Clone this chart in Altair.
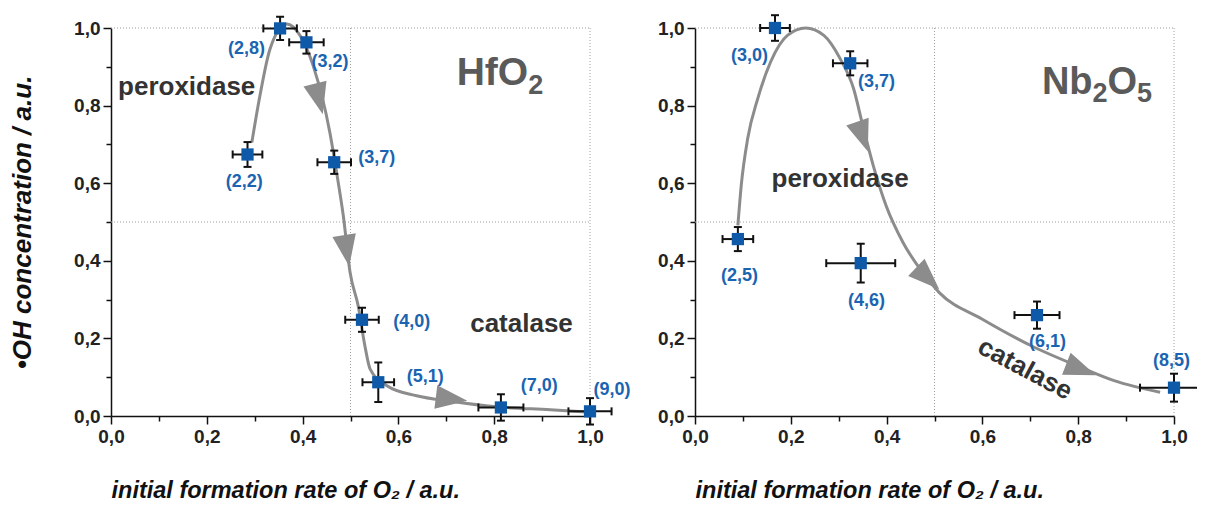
import altair as alt
import pandas as pd

# ---------------- HfO2 panel data ----------------
hf_x = [0.285, 0.353, 0.408, 0.466, 0.524, 0.558, 0.814, 1.0]
hf_y = [0.674, 0.999, 0.963, 0.654, 0.248, 0.087, 0.022, 0.012]
hf_xerr = [0.031, 0.035, 0.036, 0.035, 0.035, 0.033, 0.047, 0.045]
hf_yerr = [0.032, 0.030, 0.029, 0.030, 0.031, 0.051, 0.034, 0.034]
hf_labels = ["(2,2)", "(2,8)", "(3,2)", "(3,7)", "(4,0)", "(5,1)", "(7,0)", "(9,0)"]
hf_label_x = [0.278, 0.283, 0.457, 0.555, 0.628, 0.656, 0.894, 1.046]
hf_label_y = [0.603, 0.946, 0.912, 0.665, 0.242, 0.100, 0.077, 0.067]

hf_curve_x = [0.294, 0.311, 0.332, 0.367, 0.395, 0.422, 0.457, 0.471, 0.485, 0.499,
              0.516, 0.530, 0.541, 0.576, 0.638, 0.708, 0.812, 0.917, 0.993]
hf_curve_y = [0.705, 0.826, 0.946, 1.010, 0.980, 0.903, 0.730, 0.628, 0.516, 0.371,
              0.284, 0.181, 0.121, 0.078, 0.052, 0.038, 0.023, 0.016, 0.010]

hf_arrow_x = [0.434, 0.492, 0.711]
hf_arrow_y = [0.817, 0.426, 0.044]
hf_arrow_angle = [165.7, 170.7, 96.9]

hf_region_text = ["peroxidase", "catalase"]
hf_region_x = [0.158, 0.857]
hf_region_y = [0.847, 0.237]
hf_region_angle = [0, 0]

hf_formula_parts = ["HfO", "2"]
hf_formula_x = [0.871, 0.871]
hf_formula_y = [0.852, 0.830]
hf_formula_size = [39, 27]
hf_formula_align = ["right", "left"]

# ---------------- Nb2O5 panel data ----------------
nb_x = [0.0895, 0.167, 0.324, 0.346, 0.714, 1.0]
nb_y = [0.456, 1.0, 0.909, 0.394, 0.26, 0.073]
nb_xerr = [0.032, 0.031, 0.036, 0.072, 0.047, 0.071]
nb_yerr = [0.031, 0.033, 0.031, 0.050, 0.035, 0.036]
nb_labels = ["(2,5)", "(3,0)", "(3,7)", "(4,6)", "(6,1)", "(8,5)"]
nb_label_x = [0.093, 0.114, 0.379, 0.358, 0.736, 0.995]
nb_label_y = [0.362, 0.929, 0.860, 0.297, 0.190, 0.143]

nb_curve_x = [0.0895, 0.0965, 0.110, 0.131, 0.158, 0.193, 0.231, 0.269, 0.303, 0.331,
              0.350, 0.372, 0.399, 0.434, 0.475, 0.510, 0.599, 0.702, 0.806, 0.875, 0.971]
nb_curve_y = [0.491, 0.594, 0.715, 0.818, 0.913, 0.981, 1.000, 0.981, 0.921, 0.844,
              0.750, 0.646, 0.542, 0.448, 0.370, 0.318, 0.250, 0.181, 0.125, 0.091, 0.061]

nb_arrow_x = [0.350, 0.486, 0.806]
nb_arrow_y = [0.720, 0.355, 0.120]
nb_arrow_angle = [160.8, 133.7, 111.2]

nb_region_text = ["peroxidase", "catalase"]
nb_region_x = [0.303, 0.689]
nb_region_y = [0.611, 0.121]
nb_region_angle = [0, 28]

nb_formula_parts = ["Nb", "2", "O", "5"]
nb_formula_x = [0.830, 0.830, 0.861, 0.923]
nb_formula_y = [0.829, 0.808, 0.829, 0.808]
nb_formula_size = [38, 27, 38, 27]
nb_formula_align = ["right", "left", "left", "left"]

# dotted guide lines
vline_x = [0.5, 1.0]
hline_y = [0.5, 1.0]

tick_values = [0.0, 0.1, 0.2, 0.3, 0.4, 0.5, 0.6, 0.7, 0.8, 0.9, 1.0]

FONT = "Liberation Sans"
BLUE = "#0f5aa8"
LABEL_BLUE = "#1a64b2"
GRAY = "#8c8c8c"
DARK = "#333333"
FORMULA_GRAY = "#5a5a5a"

major_test = "round(datum.value*10) % 2 == 0"
label_expr = f"{major_test} ? replace(format(datum.value, '.1f'), '.', ',') : ''"
tick_size = {"condition": {"test": major_test, "value": 8}, "value": 5}

xscale = alt.Scale(domain=[0, 1], nice=False, zero=False)
yscale = alt.Scale(domain=[0, 1], nice=False, zero=False)

AXIS_STYLE = dict(domainColor="#111111", domainWidth=1.5, tickColor="#111111", tickWidth=1.5,
                  labelFont=FONT, labelFontWeight="bold", labelFontSize=19, labelColor="#222222",
                  titleFont=FONT, titleColor="#111111", grid=False, labelFlush=False)


def make_axis_x():
    return alt.Axis(values=tick_values, labelExpr=label_expr, tickSize=tick_size,
                    title="initial formation rate of O\u2082 / a.u.",
                    titleFontStyle="italic", titleFontWeight="bold", titleFontSize=23.5,
                    titleAnchor="start", titlePadding=32, labelPadding=3, **AXIS_STYLE)


def make_axis_y(with_title):
    kw = dict(values=tick_values, labelExpr=label_expr, tickSize=tick_size,
              labelPadding=3, labelOverlap=False, **AXIS_STYLE)
    if with_title:
        kw.update(title="\u2022OH concentration / a.u.", titleFontStyle="italic",
                  titleFontWeight="bold", titleFontSize=26, titlePadding=38)
    else:
        kw.update(title="")
    return alt.Axis(**kw)


def panel(px, py, pxe, pye, labels, lx, ly, cx, cy, ax, ay, aang,
          rtext, rx, ry, rang, fparts, fx, fy, fsize, falign, with_title):
    pts = pd.DataFrame({"x": px, "y": py, "xe": pxe, "ye": pye})
    pts["xlo"] = pts.x - pts.xe
    pts["xhi"] = pts.x + pts.xe
    pts["ylo"] = pts.y - pts.ye
    pts["yhi"] = pts.y + pts.ye
    lab = pd.DataFrame({"t": labels, "x": lx, "y": ly})
    curve = pd.DataFrame({"x": cx, "y": cy, "o": list(range(len(cx)))})
    arrows = pd.DataFrame({"x": ax, "y": ay, "a": aang})
    regions = pd.DataFrame({"t": rtext, "x": rx, "y": ry, "a": rang})
    vl = pd.DataFrame({"x": vline_x, "y0": [0.0] * 2, "y1": [1.0] * 2})
    hl = pd.DataFrame({"y": hline_y, "x0": [0.0] * 2, "x1": [1.0] * 2})

    ax_x = make_axis_x()
    ax_y = make_axis_y(with_title)
    X = lambda f: alt.X(f, type="quantitative", scale=xscale, axis=ax_x)
    Y = lambda f: alt.Y(f, type="quantitative", scale=yscale, axis=ax_y)

    vrules = alt.Chart(vl).mark_rule(color="#a0a0a0", strokeDash=[1, 2], strokeWidth=1).encode(
        x=X("x"), y=Y("y0"), y2="y1:Q")
    hrules = alt.Chart(hl).mark_rule(color="#a0a0a0", strokeDash=[1, 2], strokeWidth=1).encode(
        y=Y("y"), x=X("x0"), x2="x1:Q")
    line = alt.Chart(curve).mark_line(color=GRAY, strokeWidth=3, interpolate="monotone").encode(
        x=X("x"), y=Y("y"), order="o:Q")
    arrow = alt.Chart(arrows).mark_point(
        shape="M0,-1L0.75,1L-0.75,1Z", filled=True, color=GRAY, opacity=1, size=1000
    ).encode(x=X("x"), y=Y("y"), angle=alt.Angle("a:Q", scale=None))
    xerr = alt.Chart(pts).mark_rule(color="#111111", strokeWidth=2).encode(
        x=X("xlo"), x2="xhi:Q", y=Y("y"))
    yerr = alt.Chart(pts).mark_rule(color="#111111", strokeWidth=2).encode(
        y=Y("ylo"), y2="yhi:Q", x=X("x"))
    cap_style = dict(filled=False, color="#111111", strokeWidth=2, size=64, opacity=1)
    cap_xlo = alt.Chart(pts).mark_point(shape="M0,-1L0,1", **cap_style).encode(x=X("xlo"), y=Y("y"))
    cap_xhi = alt.Chart(pts).mark_point(shape="M0,-1L0,1", **cap_style).encode(x=X("xhi"), y=Y("y"))
    cap_ylo = alt.Chart(pts).mark_point(shape="M-1,0L1,0", **cap_style).encode(x=X("x"), y=Y("ylo"))
    cap_yhi = alt.Chart(pts).mark_point(shape="M-1,0L1,0", **cap_style).encode(x=X("x"), y=Y("yhi"))
    squares = alt.Chart(pts).mark_square(color=BLUE, size=150, opacity=1).encode(x=X("x"), y=Y("y"))
    labels_l = alt.Chart(lab).mark_text(
        font=FONT, fontWeight="bold", fontSize=18, color=LABEL_BLUE, align="center", baseline="middle"
    ).encode(x=X("x"), y=Y("y"), text="t:N")
    region_l = alt.Chart(regions).mark_text(
        font=FONT, fontWeight="bold", fontSize=26, color=DARK, align="center", baseline="middle"
    ).encode(x=X("x"), y=Y("y"), text="t:N", angle=alt.Angle("a:Q", scale=None))

    layers = [vrules, hrules, line, arrow, xerr, yerr,
              cap_xlo, cap_xhi, cap_ylo, cap_yhi, squares, labels_l, region_l]
    for t, x, y, s, a in zip(fparts, fx, fy, fsize, falign):
        d = pd.DataFrame({"t": [t], "x": [x], "y": [y]})
        layers.append(alt.Chart(d).mark_text(
            font=FONT, fontWeight="bold", fontSize=s, color=FORMULA_GRAY, align=a, baseline="alphabetic"
        ).encode(x=X("x"), y=Y("y"), text="t:N"))
    return alt.layer(*layers).properties(width=479, height=388)


left = panel(hf_x, hf_y, hf_xerr, hf_yerr, hf_labels, hf_label_x, hf_label_y,
             hf_curve_x, hf_curve_y, hf_arrow_x, hf_arrow_y, hf_arrow_angle,
             hf_region_text, hf_region_x, hf_region_y, hf_region_angle,
             hf_formula_parts, hf_formula_x, hf_formula_y, hf_formula_size, hf_formula_align, True)
right = panel(nb_x, nb_y, nb_xerr, nb_yerr, nb_labels, nb_label_x, nb_label_y,
              nb_curve_x, nb_curve_y, nb_arrow_x, nb_arrow_y, nb_arrow_angle,
              nb_region_text, nb_region_x, nb_region_y, nb_region_angle,
              nb_formula_parts, nb_formula_x, nb_formula_y, nb_formula_size, nb_formula_align, False)

chart = alt.hconcat(left, right, spacing=105, bounds="flush").properties(
    padding={"left": 1, "top": 3, "right": -16, "bottom": 0}, background="white"
).configure_view(stroke=None)

chart.save("out.html", embed_options={"renderer": "svg", "actions": False})
